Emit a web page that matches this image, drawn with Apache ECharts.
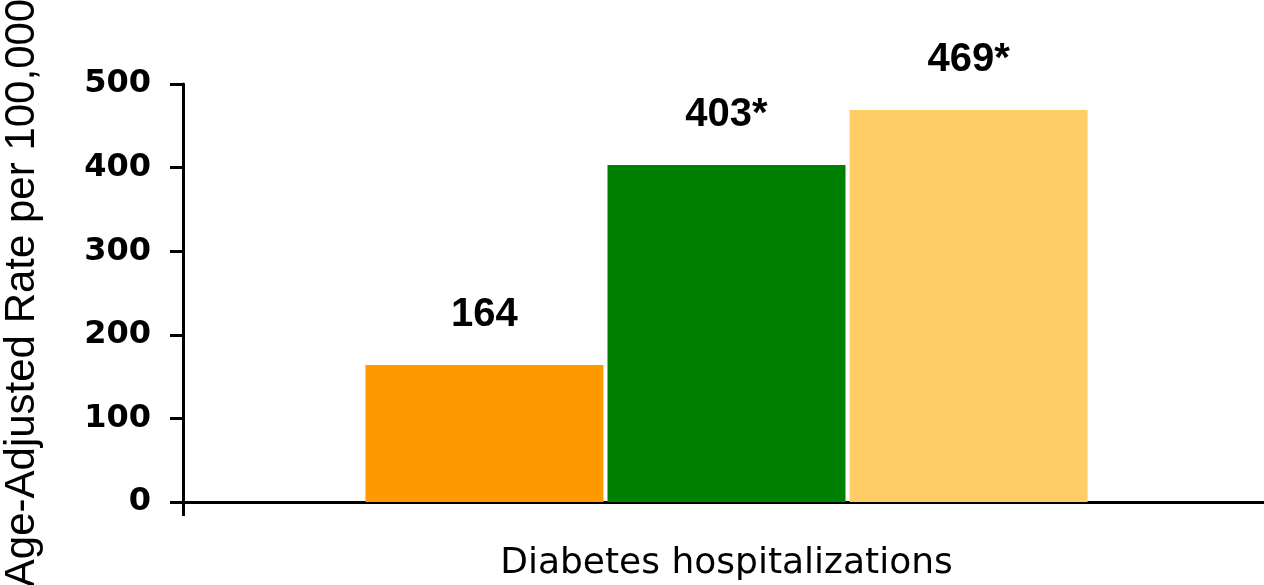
<!DOCTYPE html>
<html>
<head>
<meta charset="utf-8">
<script src="https://cdn.jsdelivr.net/npm/echarts@6/dist/echarts.min.js"></script>
<style>
  html, body { margin: 0; padding: 0; background: #fff; }
  #chart { width: 1264px; height: 585px; }
</style>
</head>
<body>
<div id="chart"></div>
<script>
// data
var categories = ["Diabetes hospitalizations"];
var groupValues = [164, 403, 469];
var groupLabels = ["164", "403*", "469*"];
var groupColors = ["#FF9900", "#008000", "#FFCC66"];
var yTicks = [0, 100, 200, 300, 400, 500];

var seriesData = [];
for (var i = 0; i < groupValues.length; i++) {
  seriesData.push({
    type: "bar",
    name: "group" + (i + 1),
    barWidth: 238,
    barGap: "1.7%",
    itemStyle: { color: groupColors[i] },
    label: {
      show: true,
      position: "top",
      distance: 30,
      formatter: (function (txt) { return function () { return txt; }; })(groupLabels[i]),
      fontFamily: "Liberation Sans, Arial, sans-serif",
      fontWeight: "bold",
      fontSize: 40,
      color: "#000"
    },
    data: [groupValues[i]]
  });
}

var myChart = echarts.init(document.getElementById("chart"));
myChart.setOption({
  animation: false,
  grid: {
    left: 183,
    right: -6,
    top: 84,
    bottom: 83,
    containLabel: false,
    outerBoundsMode: "none"
  },
  xAxis: {
    type: "category",
    data: categories,
    axisLine: { lineStyle: { color: "#000", width: 3 } },
    axisTick: { show: true, length: 14, lineStyle: { color: "#000", width: 3 } },
    axisLabel: {
      margin: 44,
      fontFamily: "DejaVu Sans, sans-serif",
      fontSize: 36,
      color: "#000"
    }
  },
  yAxis: {
    type: "value",
    min: yTicks[0],
    max: yTicks[yTicks.length - 1],
    interval: 100,
    name: "Age-Adjusted Rate per 100,000",
    nameLocation: "middle",
    nameGap: 140,
    nameRotate: 90,
    nameTextStyle: {
      fontFamily: "Liberation Sans, Arial, sans-serif",
      fontSize: 42,
      color: "#000"
    },
    axisLine: { show: true, lineStyle: { color: "#000", width: 3 } },
    axisTick: { show: true, length: 13, lineStyle: { color: "#000", width: 3 } },
    splitLine: { show: false },
    axisLabel: {
      margin: 32,
      fontFamily: "DejaVu Sans, sans-serif",
      fontWeight: "bold",
      fontSize: 32,
      color: "#000"
    }
  },
  series: seriesData
});
</script>
</body>
</html>
